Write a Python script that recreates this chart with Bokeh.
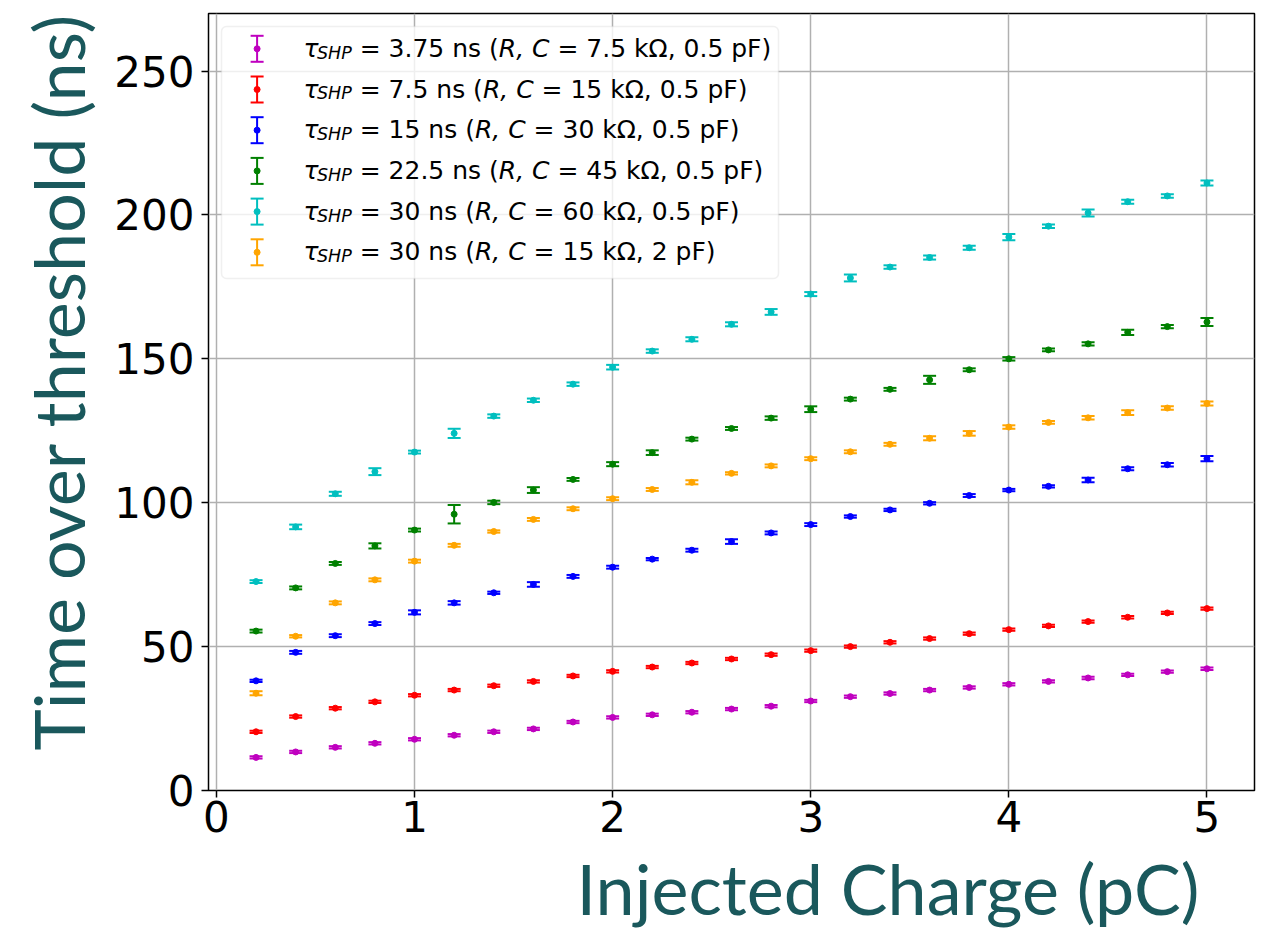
import math
from bokeh.plotting import figure
from bokeh.models import ColumnDataSource, FixedTicker, BoxAnnotation, Title, Range1d
from bokeh.core.properties import value
from bokeh.embed import file_html
from bokeh.resources import INLINE

# ---------------- data ----------------
charge = [0.2, 0.4, 0.6, 0.8, 1.0, 1.2, 1.4, 1.6, 1.8, 2.0, 2.2, 2.4, 2.6,
          2.8, 3.0, 3.2, 3.4, 3.6, 3.8, 4.0, 4.2, 4.4, 4.6, 4.8, 5.0]

tot_3p75 = [11.5, 13.4, 15.0, 16.4, 17.8, 19.2, 20.4, 21.4, 23.8, 25.4, 26.3, 27.2, 28.3,
            29.3, 31.1, 32.6, 33.7, 34.9, 35.8, 36.9, 37.9, 39.1, 40.2, 41.3, 42.3]
err_3p75 = [0.4, 0.4, 0.4, 0.4, 0.4, 0.4, 0.4, 0.4, 0.4, 0.4, 0.4, 0.4, 0.4,
            0.4, 0.4, 0.4, 0.4, 0.4, 0.4, 0.4, 0.4, 0.4, 0.4, 0.4, 0.4]

tot_7p5 = [20.4, 25.7, 28.6, 30.8, 33.1, 34.9, 36.4, 37.9, 39.8, 41.4, 42.9, 44.3, 45.7,
           47.2, 48.6, 50.0, 51.5, 52.8, 54.5, 55.9, 57.2, 58.7, 60.2, 61.7, 63.2]
err_7p5 = [0.4, 0.4, 0.4, 0.4, 0.4, 0.4, 0.4, 0.4, 0.4, 0.4, 0.4, 0.4, 0.4,
           0.4, 0.4, 0.4, 0.4, 0.4, 0.4, 0.4, 0.4, 0.4, 0.4, 0.4, 0.4]

tot_15 = [38.1, 48.0, 53.8, 58.0, 61.9, 65.2, 68.7, 71.6, 74.4, 77.6, 80.4, 83.5, 86.5,
          89.5, 92.4, 95.2, 97.5, 99.8, 102.5, 104.4, 105.7, 107.9, 111.8, 113.2, 115.3]
err_15 = [0.4, 0.5, 0.5, 0.5, 0.7, 0.6, 0.4, 0.8, 0.5, 0.5, 0.4, 0.5, 0.8,
          0.5, 0.5, 0.4, 0.4, 0.4, 0.5, 0.4, 0.4, 0.8, 0.5, 0.6, 0.9]

tot_22p5 = [55.4, 70.4, 78.9, 85.0, 90.5, 96.0, 100.1, 104.4, 108.1, 113.4, 117.4, 122.1, 125.8,
            129.4, 132.5, 136.0, 139.4, 142.7, 146.2, 150.0, 153.1, 155.2, 159.2, 161.2, 162.8]
err_22p5 = [0.5, 0.5, 0.5, 0.9, 0.5, 3.2, 0.6, 1.0, 0.5, 0.7, 0.8, 0.5, 0.5,
            0.6, 1.0, 0.5, 0.5, 1.4, 0.5, 0.6, 0.5, 0.6, 0.9, 0.6, 1.4]

tot_30_60k = [72.6, 91.6, 103.1, 110.8, 117.6, 124.1, 130.1, 135.6, 141.2, 147.1, 152.7, 156.8, 162.0,
              166.3, 172.5, 178.1, 181.9, 185.2, 188.6, 192.3, 196.1, 200.7, 204.6, 206.6, 211.1]
err_30_60k = [0.5, 0.8, 0.7, 1.2, 0.5, 1.6, 0.6, 0.6, 0.6, 0.8, 0.6, 0.7, 0.7,
              1.0, 0.7, 1.2, 0.6, 0.7, 0.7, 1.1, 0.6, 1.2, 0.7, 0.6, 0.9]

tot_30_2pF = [33.8, 53.6, 65.2, 73.2, 79.7, 85.2, 90.0, 94.2, 97.9, 101.4, 104.6, 107.1, 110.2,
              112.8, 115.3, 117.7, 120.3, 122.4, 124.1, 126.3, 127.9, 129.5, 131.3, 132.9, 134.5]
err_30_2pF = [0.7, 0.4, 0.5, 0.5, 0.5, 0.5, 0.4, 0.5, 0.5, 0.5, 0.5, 0.7, 0.4,
              0.5, 0.5, 0.5, 0.5, 0.7, 0.8, 0.6, 0.5, 0.6, 0.8, 0.6, 0.7]

tau_labels = ["3.75", "7.5", "15", "22.5", "30", "30"]
r_labels = ["7.5", "15", "30", "45", "60", "15"]
c_labels = ["0.5", "0.5", "0.5", "0.5", "0.5", "2"]
colors = ["#bf00bf", "#ff0000", "#0000ff", "#008000", "#00bfbf", "#ffa500"]
series_y = [tot_3p75, tot_7p5, tot_15, tot_22p5, tot_30_60k, tot_30_2pF]
series_e = [err_3p75, err_7p5, err_15, err_22p5, err_30_60k, err_30_2pF]

x_ticks = [0, 1, 2, 3, 4, 5]
y_ticks = [0, 50, 100, 150, 200, 250]
X_RANGE = (-0.04, 5.24)
Y_RANGE = (0, 270)

# ---------------- layout ----------------
W, H = 1269, 940
ML, MR, MT, MB = 208, 15, 13, 150
FW = W - ML - MR
FH = H - MT - MB
LABEL_COLOR = "#1a585c"


def xd(sx):
    return X_RANGE[0] + (sx - ML) * (X_RANGE[1] - X_RANGE[0]) / FW


def yd(sy):
    return Y_RANGE[1] - (sy - MT) * (Y_RANGE[1] - Y_RANGE[0]) / FH


p = figure(width=W, height=H, x_range=Range1d(*X_RANGE), y_range=Range1d(*Y_RANGE),
           output_backend="svg", toolbar_location=None,
           min_border_left=ML, min_border_right=MR, min_border_top=MT, min_border_bottom=MB,
           background_fill_color="white", border_fill_color="white")
p.outline_line_color = "black"
p.outline_line_width = 1.5

p.xaxis.ticker = FixedTicker(ticks=x_ticks)
p.yaxis.ticker = FixedTicker(ticks=y_ticks)
for ax in (p.xaxis[0], p.yaxis[0]):
    ax.axis_line_color = None
    ax.major_tick_in = 0
    ax.major_tick_out = 7
    ax.major_tick_line_width = 1.5
    ax.major_tick_line_color = "black"
    ax.minor_tick_line_color = None
    ax.major_label_text_font = "DejaVu Sans"
    ax.major_label_text_font_size = "42px"
    ax.major_label_text_color = "black"
p.xaxis.major_label_standoff = 3
p.yaxis.major_label_standoff = 7

p.xgrid.grid_line_color = "#b0b0b0"
p.ygrid.grid_line_color = "#b0b0b0"
p.xgrid.grid_line_width = 1.5
p.ygrid.grid_line_width = 1.5

# ---------------- data series ----------------
for ys, es, col in zip(series_y, series_e, colors):
    lo = [y - e for y, e in zip(ys, es)]
    hi = [y + e for y, e in zip(ys, es)]
    src = ColumnDataSource(dict(x=charge, y=ys, lo=lo, hi=hi))
    p.segment(x0="x", y0="lo", x1="x", y1="hi", source=src, line_color=col, line_width=2)
    p.scatter(x="x", y="lo", source=src, marker="dash", size=13, line_color=col, line_width=2)
    p.scatter(x="x", y="hi", source=src, marker="dash", size=13, line_color=col, line_width=2)
    p.scatter(x="x", y="y", source=src, marker="circle", size=6, fill_color=col, line_color=col)

# ---------------- legend ----------------
p.add_layout(BoxAnnotation(left=xd(221), right=xd(778), top=yd(26), bottom=yd(278),
                           fill_color="white", fill_alpha=0.8,
                           line_color="#cccccc", line_width=1.5, border_radius=5))

ADV = {' ': 0.318, '.': 0.318, ',': 0.318, '=': 0.838, '(': 0.390, ')': 0.390,
       'n': 0.634, 's': 0.521, 'k': 0.579, 'Ω': 0.764, 'p': 0.635, 'F': 0.575,
       'R': 0.695, 'C': 0.698, 'S': 0.635, 'H': 0.752, 'P': 0.603, 'τ': 0.537}
for d in "0123456789":
    ADV[d] = 0.636


def tw(s, size):
    return sum(ADV.get(c, 0.6) for c in s) * size


FS, FSS = 25.0, 17.5
SP = ADV[' '] * FS
groups = {"it": dict(x=[], y=[], t=[]), "sub": dict(x=[], y=[], t=[]), "rm": dict(x=[], y=[], t=[])}
gx, gy, gc = [], [], []
for i in range(6):
    cy = 48.3 + i * 40.7
    base = cy - 0.4
    sx = 303.0
    # (text, group, size, baseline, gap before)
    pieces = [("τ", "it", FS, base, 0.0), ("SHP", "sub", FSS, base + 4.3, 0.0),
              (f"= {tau_labels[i]} ns (", "rm", FS, base, SP), ("R, C", "it", FS, base, 0.0),
              (f"= {r_labels[i]} kΩ, {c_labels[i]} pF)", "rm", FS, base, SP)]
    for txt, g, size, b, gap in pieces:
        sx += gap
        groups[g]["x"].append(xd(sx))
        groups[g]["y"].append(yd(b))
        groups[g]["t"].append(txt)
        sx += tw(txt, size)
    gx.append(xd(256.6))
    gy.append(cy)
    gc.append(colors[i])

lsrc = ColumnDataSource(dict(x=gx, yc=[yd(c) for c in gy], lo=[yd(c + 13) for c in gy],
                             hi=[yd(c - 13) for c in gy], c=gc))
p.segment(x0="x", y0="lo", x1="x", y1="hi", source=lsrc, line_color="c", line_width=2, level="overlay")
p.scatter(x="x", y="lo", source=lsrc, marker="dash", size=13, line_color="c", line_width=2, level="overlay")
p.scatter(x="x", y="hi", source=lsrc, marker="dash", size=13, line_color="c", line_width=2, level="overlay")
p.scatter(x="x", y="yc", source=lsrc, marker="circle", size=6, fill_color="c", line_color="c", level="overlay")

for g, style, size in (("it", "italic", FS), ("sub", "italic", FSS), ("rm", "normal", FS)):
    s = ColumnDataSource(dict(x=groups[g]["x"], y=groups[g]["y"], t=groups[g]["t"]))
    p.text(x="x", y="y", text="t", source=s, text_font=value("DejaVu Sans"),
           text_font_size=value(f"{size}px"), text_font_style=style,
           text_color="black", text_align="left", text_baseline="alphabetic", level="overlay")

# ---------------- axis labels ----------------
p.add_layout(Title(text="Time over threshold (ns)", align="left", offset=40, standoff=23,
                   text_font="Lato", text_font_size="70px", text_font_style="normal",
                   text_color=LABEL_COLOR), "left")
p.add_layout(Title(text="Injected Charge (pC)", align="left", offset=368, standoff=19,
                   text_font="Lato", text_font_size="70px", text_font_style="normal",
                   text_color=LABEL_COLOR), "below")

open("out.html", "w").write(file_html(p, INLINE))
